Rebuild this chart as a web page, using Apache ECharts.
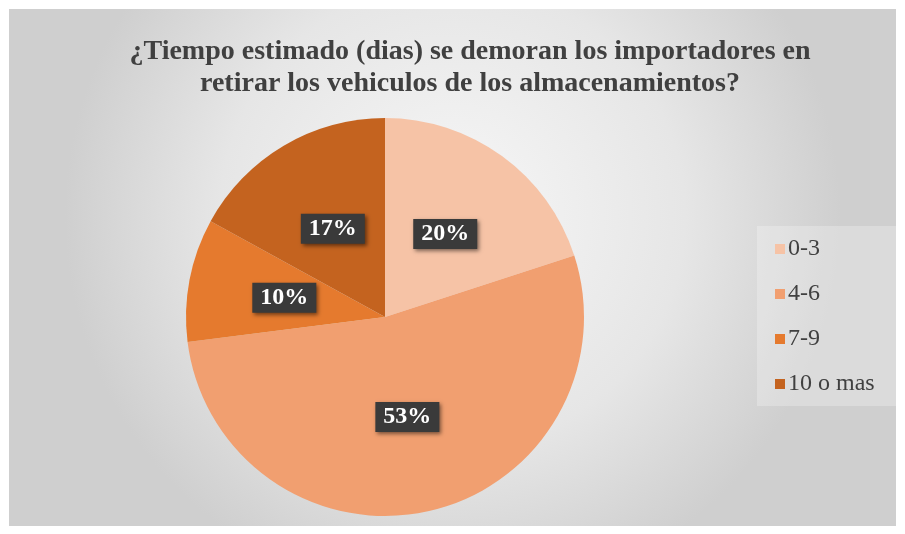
<!DOCTYPE html>
<html>
<head>
<meta charset="utf-8">
<script src="https://cdn.jsdelivr.net/npm/echarts@6/dist/echarts.min.js"></script>
<style>
html,body{margin:0;padding:0;background:#fff;}
#c{width:905px;height:534px;}
</style>
</head>
<body>
<div id="c"></div>
<script>
var titleText = '¿Tiempo estimado (dias) se demoran los importadores en\nretirar los vehiculos de los almacenamientos?';
var categories = ['0-3', '4-6', '7-9', '10 o mas'];
var values = [20, 53, 10, 17];
var colors = ['#F6C3A6', '#F19F70', '#E57A2E', '#C4631F'];

var chart = echarts.init(document.getElementById('c'));
var data = categories.map(function (c, i) {
  return { name: c, value: values[i], itemStyle: { color: colors[i] } };
});
chart.setOption({
  backgroundColor: '#ffffff',
  graphic: [{
    type: 'rect', z: -10, silent: true,
    shape: { x: 9, y: 9, width: 887, height: 517 },
    style: {
      fill: {
        type: 'radial', x: 0.5, y: 0.4, r: 0.75,
        colorStops: [{ offset: 0, color: '#f7f7f7' }, { offset: 0.6, color: '#e6e6e6' }, { offset: 1, color: '#cfcfcf' }]
      }
    }
  }, {
    type: 'rect', z: -5, silent: true,
    shape: { x: 757, y: 226, width: 140, height: 180 },
    style: { fill: 'rgba(255,255,255,0.25)' }
  }],
  title: {
    text: titleText,
    left: 465, top: 31, textAlign: 'center',
    textStyle: {
      fontFamily: 'Liberation Serif', fontWeight: 'bold', fontSize: 28,
      color: '#404040', lineHeight: 32
    }
  },
  legend: {
    orient: 'vertical', left: 770, top: 232,
    itemWidth: 10, itemHeight: 10, itemGap: 21,
    icon: 'rect',
    textStyle: { fontFamily: 'Liberation Serif', fontSize: 24, color: '#404040', padding: [0, 0, 0, -2] },
    data: categories
  },
  series: [{
    type: 'pie',
    center: [385, 317], radius: 199,
    startAngle: 90, clockwise: true,
    silent: true,
    label: {
      show: true, position: 'inside',
      formatter: function (p) { return p.value + '%'; },
      color: '#ffffff', fontFamily: 'Liberation Serif', fontWeight: 'bold', fontSize: 24,
      backgroundColor: '#3a3a3a', padding: [4, 8, 2, 8],
      shadowColor: 'rgba(0,0,0,0.5)', shadowBlur: 4, shadowOffsetX: 2, shadowOffsetY: 2
    },
    labelLine: { show: false },
    itemStyle: { borderWidth: 0 },
    data: data
  }]
});
</script>
</body>
</html>
